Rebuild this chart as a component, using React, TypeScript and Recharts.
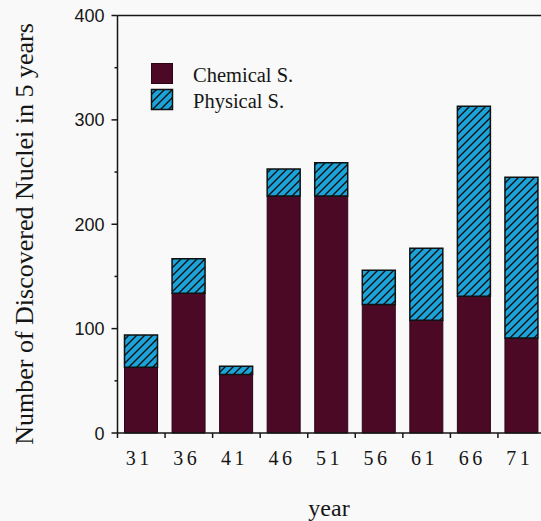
import { BarChart, Bar, XAxis, YAxis, ReferenceLine } from "recharts";

const years = ["31", "36", "41", "46", "51", "56", "61", "66", "71"];
const chemical = [63, 134, 56, 227, 227, 123, 108, 131, 91];
const physical = [31, 33, 8, 26, 32, 33, 69, 182, 154];
const yTicks = [0, 50, 100, 150, 200, 250, 300, 350, 400];

const data = years.map((year, i) => ({
    year,
    chemical: chemical[i],
    physical: physical[i],
}));

const CHART_W = 560;
const CHART_H = 521;
const Y_W = 117.5;
const MARGIN = { top: 15.5, right: 14.5, bottom: 0, left: 0 };
const BAND = (CHART_W - Y_W - MARGIN.right) / years.length;

const FONT = '"Liberation Serif", "Times New Roman", serif';
const SANS = '"Liberation Sans", Arial, sans-serif';
const INK = "#161616";
const CHEM = "#4c0926";
const PHYS = "#1ba3da";

function XTick(props: any) {
    const { x, y, payload } = props;
    const bx = x - BAND / 2;
    return (
        <g>
            <line x1={bx} y1={y} x2={bx} y2={y + 5} stroke={INK} strokeWidth={1.5} />
            <text
                x={x - 2}
                y={y + 32}
                textAnchor="middle"
                fontFamily={FONT}
                fontSize={20}
                letterSpacing={3.5}
                fill={INK}
            >
                {payload.value}
            </text>
        </g>
    );
}

function YTick(props: any) {
    const { x, y, payload } = props;
    const major = payload.value % 100 === 0;
    return (
        <g>
            <line x1={x - (major ? 6 : 3)} y1={y} x2={x} y2={y} stroke={INK} strokeWidth={1.5} />
            {major && (
                <text
                    x={x - 13}
                    y={y + 6.5}
                    textAnchor="end"
                    fontFamily={SANS}
                    fontSize={18}
                    fill={INK}
                >
                    {payload.value}
                </text>
            )}
        </g>
    );
}

export default function App() {
    return (
        <div
            style={{
                position: "fixed",
                left: 0,
                top: 0,
                width: 541,
                height: 521,
                overflow: "hidden",
                background: "#f8f9f8",
            }}
        >
            <BarChart width={CHART_W} height={CHART_H} data={data} margin={MARGIN}>
                <defs>
                    <pattern id="hatch" patternUnits="userSpaceOnUse" width={8} height={8}>
                        <rect width={8} height={8} fill={PHYS} />
                        <path
                            d="M-2,2 L2,-2 M0,8 L8,0 M6,10 L10,6"
                            stroke="#111"
                            strokeWidth={1.4}
                        />
                    </pattern>
                </defs>
                <XAxis
                    dataKey="year"
                    height={88}
                    tickSize={0}
                    tickMargin={0}
                    tickLine={false}
                    axisLine={{ stroke: INK, strokeWidth: 1.5 }}
                    tick={<XTick />}
                    interval={0}
                    label={() => (
                        <text x={329} y={516} textAnchor="middle" fontFamily={FONT} fontSize={24} fill={INK}>
                            year
                        </text>
                    )}
                />
                <YAxis
                    width={Y_W}
                    domain={[0, 400]}
                    ticks={yTicks}
                    interval={0}
                    tickSize={0}
                    tickMargin={0}
                    tickLine={false}
                    axisLine={{ stroke: INK, strokeWidth: 1.5 }}
                    tick={<YTick />}
                    label={() => (
                        <text
                            x={33}
                            y={234}
                            transform="rotate(-90, 33, 234)"
                            textAnchor="middle"
                            fontFamily={FONT}
                            fontSize={26}
                            fill={INK}
                        >
                            Number of Discovered Nuclei in 5 years
                        </text>
                    )}
                />
                <ReferenceLine y={400} stroke={INK} strokeWidth={1.5} />
                <Bar
                    dataKey="chemical"
                    stackId="a"
                    fill={CHEM}
                    stroke="#2b0515"
                    strokeWidth={1}
                    barSize={33}
                    isAnimationActive={false}
                />
                <Bar
                    dataKey="physical"
                    stackId="a"
                    fill="url(#hatch)"
                    stroke="#111"
                    strokeWidth={1.5}
                    barSize={33}
                    isAnimationActive={false}
                />
            </BarChart>
            <svg
                width={200}
                height={60}
                style={{ position: "absolute", left: 140, top: 58 }}
            >
                <rect x={11.5} y={5.5} width={21} height={20} fill={CHEM} stroke="#2b0515" />
                <text x={53} y={24} fontFamily={FONT} fontSize={20.5} fill={INK}>
                    Chemical S.
                </text>
                <rect x={11.5} y={31.5} width={21} height={20} fill="url(#hatch)" stroke="#111" strokeWidth={1.5} />
                <text x={53} y={49.5} fontFamily={FONT} fontSize={20.5} fill={INK}>
                    Physical S.
                </text>
            </svg>
        </div>
    );
}
